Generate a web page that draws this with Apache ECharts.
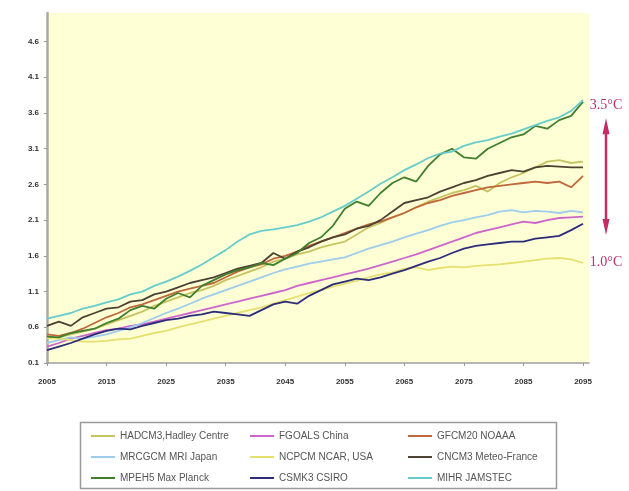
<!DOCTYPE html>
<html>
<head>
<meta charset="utf-8">
<script src="https://cdn.jsdelivr.net/npm/echarts@6/dist/echarts.min.js"></script>
<style>
  html, body { margin: 0; padding: 0; background: #ffffff; }
  #chart { width: 629px; height: 491px; }
</style>
</head>
<body>
<div id="chart"></div>
<script>
// Model years (two-year steps)
const years = [2005, 2007, 2009, 2011, 2013, 2015, 2017, 2019, 2021, 2023,
               2025, 2027, 2029, 2031, 2033, 2035, 2037, 2039, 2041, 2043,
               2045, 2047, 2049, 2051, 2053, 2055, 2057, 2059, 2061, 2063,
               2065, 2067, 2069, 2071, 2073, 2075, 2077, 2079, 2081, 2083,
               2085, 2087, 2089, 2091, 2093, 2095];

// Axis tick labels
const xTicks = [2005, 2015, 2025, 2035, 2045, 2055, 2065, 2075, 2085, 2095];
const yTicks = [0.1, 0.6, 1.1, 1.6, 2.1, 2.6, 3.1, 3.6, 4.1, 4.6];

// Temperature change per model
const hadcm3 = [0.45, 0.46, 0.50, 0.54, 0.58, 0.64, 0.70, 0.76, 0.82, 0.90,
                0.96, 1.02, 1.08, 1.12, 1.18, 1.26, 1.32, 1.38, 1.44, 1.52,
                1.56, 1.62, 1.66, 1.72, 1.76, 1.80, 1.90, 2.00, 2.06, 2.14,
                2.20, 2.28, 2.36, 2.42, 2.48, 2.52, 2.58, 2.50, 2.62, 2.70,
                2.76, 2.84, 2.92, 2.94, 2.90, 2.92];
const fgoals = [0.33, 0.38, 0.44, 0.48, 0.52, 0.56, 0.58, 0.62, 0.64, 0.68,
                0.72, 0.76, 0.80, 0.84, 0.88, 0.92, 0.96, 1.00, 1.04, 1.08,
                1.12, 1.18, 1.22, 1.26, 1.30, 1.34, 1.38, 1.42, 1.47, 1.52,
                1.57, 1.62, 1.68, 1.74, 1.80, 1.86, 1.92, 1.96, 2.00, 2.04,
                2.08, 2.06, 2.10, 2.13, 2.14, 2.15];
const gfcm20 = [0.50, 0.48, 0.52, 0.58, 0.66, 0.74, 0.80, 0.88, 0.92, 0.98,
                1.04, 1.10, 1.14, 1.18, 1.22, 1.30, 1.38, 1.44, 1.48, 1.56,
                1.60, 1.66, 1.74, 1.80, 1.86, 1.92, 1.98, 2.04, 2.08, 2.14,
                2.20, 2.28, 2.34, 2.38, 2.44, 2.48, 2.52, 2.56, 2.58, 2.60,
                2.62, 2.64, 2.62, 2.64, 2.56, 2.72];
const mrcgcm = [0.38, 0.42, 0.46, 0.44, 0.47, 0.50, 0.55, 0.60, 0.66, 0.73,
                0.80, 0.86, 0.93, 1.00, 1.06, 1.12, 1.18, 1.24, 1.30, 1.36,
                1.41, 1.45, 1.49, 1.52, 1.55, 1.58, 1.64, 1.70, 1.75, 1.80,
                1.86, 1.91, 1.96, 2.02, 2.07, 2.10, 2.14, 2.17, 2.22, 2.24,
                2.21, 2.23, 2.22, 2.20, 2.23, 2.21];
const ncpcm = [0.45, 0.44, 0.42, 0.40, 0.40, 0.41, 0.43, 0.44, 0.48, 0.52,
               0.55, 0.60, 0.64, 0.68, 0.72, 0.76, 0.80, 0.84, 0.88, 0.93,
               0.98, 1.03, 1.08, 1.12, 1.17, 1.21, 1.25, 1.30, 1.34, 1.37,
               1.42, 1.44, 1.40, 1.43, 1.45, 1.44, 1.46, 1.47, 1.48, 1.50,
               1.52, 1.54, 1.56, 1.57, 1.55, 1.50];
const cncm3 = [0.62, 0.68, 0.62, 0.74, 0.80, 0.86, 0.88, 0.96, 0.98, 1.06,
               1.10, 1.16, 1.22, 1.26, 1.30, 1.36, 1.42, 1.46, 1.50, 1.64,
               1.56, 1.66, 1.72, 1.80, 1.86, 1.90, 1.98, 2.02, 2.10, 2.22,
               2.34, 2.38, 2.42, 2.50, 2.56, 2.62, 2.66, 2.72, 2.76, 2.80,
               2.78, 2.84, 2.86, 2.85, 2.84, 2.84];
const mpeh5 = [0.47, 0.46, 0.52, 0.55, 0.58, 0.66, 0.72, 0.84, 0.90, 0.86,
               1.00, 1.08, 1.02, 1.18, 1.26, 1.34, 1.40, 1.44, 1.50, 1.47,
               1.56, 1.64, 1.78, 1.86, 2.02, 2.26, 2.36, 2.30, 2.48, 2.62,
               2.70, 2.64, 2.86, 3.02, 3.10, 2.98, 2.96, 3.10, 3.18, 3.26,
               3.30, 3.42, 3.38, 3.50, 3.56, 3.76];
const csmk3 = [0.28, 0.33, 0.38, 0.44, 0.50, 0.55, 0.58, 0.57, 0.62, 0.66,
               0.70, 0.72, 0.76, 0.78, 0.82, 0.80, 0.78, 0.76, 0.84, 0.92,
               0.96, 0.93, 1.04, 1.12, 1.20, 1.24, 1.28, 1.26, 1.30, 1.35,
               1.40, 1.46, 1.52, 1.57, 1.64, 1.70, 1.74, 1.76, 1.78, 1.80,
               1.80, 1.84, 1.86, 1.88, 1.96, 2.05];
const mihr = [0.72, 0.76, 0.80, 0.86, 0.90, 0.95, 0.99, 1.06, 1.10, 1.18,
              1.24, 1.31, 1.39, 1.48, 1.58, 1.68, 1.80, 1.90, 1.95, 1.97,
              2.00, 2.03, 2.08, 2.14, 2.22, 2.30, 2.40, 2.50, 2.61, 2.70,
              2.80, 2.88, 2.97, 3.03, 3.06, 3.14, 3.19, 3.22, 3.27, 3.31,
              3.37, 3.43, 3.49, 3.54, 3.63, 3.78];

// Range labels on the right
const highLabel = '3.5°C';
const lowLabel = '1.0°C';

const models = [
  { name: 'HADCM3,Hadley Centre', data: hadcm3, color: '#c6c460' },
  { name: 'FGOALS China',         data: fgoals, color: '#cc66cc' },
  { name: 'GFCM20 NOAAA',         data: gfcm20, color: '#c0673c' },
  { name: 'MRCGCM MRI Japan',     data: mrcgcm, color: '#9ccdec' },
  { name: 'NCPCM NCAR, USA',      data: ncpcm,  color: '#e6e070' },
  { name: 'CNCM3 Meteo-France',   data: cncm3,  color: '#4d4232' },
  { name: 'MPEH5 Max Planck',     data: mpeh5,  color: '#3f7f2f' },
  { name: 'CSMK3 CSIRO',          data: csmk3,  color: '#2c2c7c' },
  { name: 'MIHR JAMSTEC',         data: mihr,   color: '#66cccc' }
];

const FONT = 'Liberation Sans, Arial, sans-serif';

function legendColumn(names, left) {
  return {
    data: names,
    orient: 'vertical',
    left: left,
    top: 430,
    height: 60,
    padding: 0,
    icon: 'rect',
    itemWidth: 24,
    itemHeight: 2,
    itemGap: 9,
    selectedMode: false,
    textStyle: { fontFamily: FONT, fontSize: 10, color: '#555', lineHeight: 12 }
  };
}

const chart = echarts.init(document.getElementById('chart'), null, { renderer: 'canvas' });

chart.setOption({
  animation: false,
  backgroundColor: '#ffffff',
  grid: {
    left: 47, right: 40, top: 13, bottom: 128,
    show: true, backgroundColor: '#ffffd6', borderWidth: 0
  },
  xAxis: {
    type: 'value',
    min: 2005, max: 2096,
    axisLine: { show: true, lineStyle: { color: '#a0a0a0', width: 1.5 } },
    axisTick: { show: true, customValues: xTicks, length: 3, lineStyle: { color: '#999' } },
    axisLabel: {
      customValues: xTicks, margin: 15,
      formatter: v => String(v),
      fontFamily: FONT, fontSize: 8, fontWeight: 'bold', color: '#333'
    },
    splitLine: { show: false }
  },
  yAxis: {
    type: 'value',
    min: 0.1, max: 5.0,
    axisLine: { show: true, lineStyle: { color: '#aaaa9c', width: 2.5 } },
    axisTick: { show: true, customValues: yTicks, length: 3, lineStyle: { color: '#999' } },
    axisLabel: {
      customValues: yTicks, margin: 8,
      formatter: v => v.toFixed(1),
      fontFamily: FONT, fontSize: 8, fontWeight: 'bold', color: '#333'
    },
    splitLine: { show: false }
  },
  legend: [
    legendColumn(['HADCM3,Hadley Centre', 'MRCGCM MRI Japan', 'MPEH5 Max Planck'], 91),
    legendColumn(['FGOALS China', 'NCPCM NCAR, USA', 'CSMK3 CSIRO'], 250),
    legendColumn(['GFCM20 NOAAA', 'CNCM3 Meteo-France', 'MIHR JAMSTEC'], 408)
  ],
  series: models.map(m => ({
    name: m.name,
    type: 'line',
    data: years.map((y, i) => [y, m.data[i]]),
    symbol: 'none',
    color: m.color,
    lineStyle: { color: m.color, width: 1.8 },
    z: 2
  }))
});

// Range annotation: labels at the highest and lowest 2095 values, joined by a double arrow
const lastIdx = years.length - 1;
const ends = models.map(m => m.data[lastIdx]);
const topY = chart.convertToPixel({ gridIndex: 0 }, [2095, Math.max(...ends)])[1];
const botY = chart.convertToPixel({ gridIndex: 0 }, [2095, Math.min(...ends)])[1];
const ax = 606;
const arrowColor = '#c42e66';
const a1 = topY + 20, a2 = botY - 30;

chart.setOption({
  graphic: [
    {
      type: 'rect', silent: true, z: -1,
      shape: { x: 80.5, y: 422.5, width: 476, height: 66 },
      style: { fill: '#ffffff', stroke: '#9a9a9a', lineWidth: 1.5 }
    },
    {
      type: 'text', silent: true,
      style: {
        x: ax, y: topY + 5, text: highLabel, align: 'center', verticalAlign: 'middle',
        font: '14px "Liberation Serif", "Times New Roman", serif', fill: '#b8306e'
      }
    },
    {
      type: 'text', silent: true,
      style: {
        x: ax, y: botY - 1, text: lowLabel, align: 'center', verticalAlign: 'middle',
        font: '14px "Liberation Serif", "Times New Roman", serif', fill: '#b8306e'
      }
    },
    {
      type: 'line', silent: true,
      shape: { x1: ax, y1: a1 + 6, x2: ax, y2: a2 - 6 },
      style: { stroke: arrowColor, lineWidth: 2.5 }
    },
    {
      type: 'polygon', silent: true,
      shape: { points: [[ax, a1 - 2], [ax - 3.5, a1 + 14], [ax + 3.5, a1 + 14]] },
      style: { fill: arrowColor }
    },
    {
      type: 'polygon', silent: true,
      shape: { points: [[ax, a2 + 2], [ax - 3.5, a2 - 14], [ax + 3.5, a2 - 14]] },
      style: { fill: arrowColor }
    }
  ]
});
</script>
</body>
</html>
